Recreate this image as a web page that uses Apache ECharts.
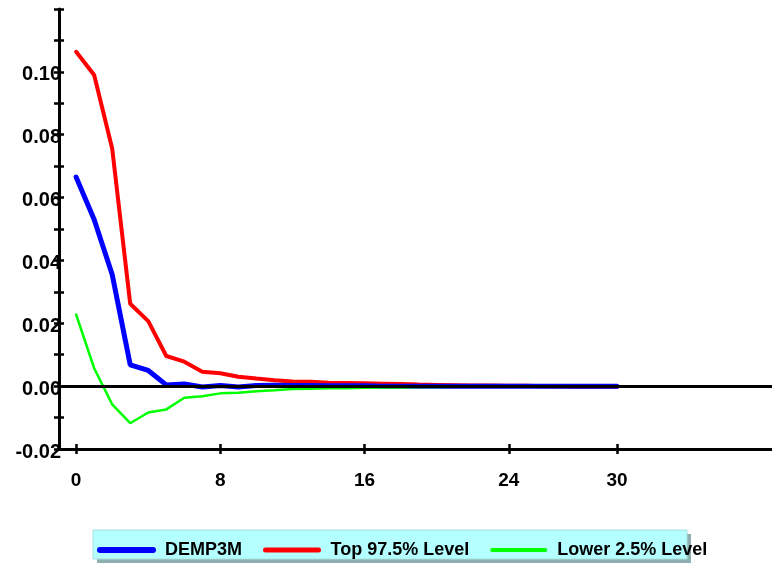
<!DOCTYPE html>
<html>
<head>
<meta charset="utf-8">
<script src="https://cdn.jsdelivr.net/npm/echarts@6/dist/echarts.min.js"></script>
<style>
html,body{margin:0;padding:0;background:#fff;}
#chart{width:772px;height:565px;}
</style>
</head>
<body>
<div id="chart"></div>
<script>
var periods = [0,1,2,3,4,5,6,7,8,9,10,11,12,13,14,15,16,17,18,19,20,21,22,23,24,25,26,27,28,29,30];
var demp3m = [0.0665,0.0530,0.0355,0.0068,0.0050,0.0004,0.0007,-0.0003,0.0002,-0.0003,0.0002,0.0003,0.0002,0.0002,0.0001,0.0001,0.0001,0.0000,0.0000,0.0000,0.0000,0.0000,0.0000,0.0000,0.0000,0.0000,0.0000,0.0000,0.0000,0.0000,0.0000];
var top975 = [0.1064,0.0990,0.0756,0.0262,0.0207,0.0096,0.0078,0.0046,0.0041,0.0030,0.0024,0.0019,0.0015,0.0014,0.0011,0.0010,0.0009,0.0008,0.0007,0.0005,0.0004,0.0003,0.0002,0.0002,0.0001,0.0001,0.0000,-0.0001,-0.0002,-0.0002,-0.0002];
var lower25 = [0.0228,0.0057,-0.0058,-0.0118,-0.0084,-0.0074,-0.0037,-0.0032,-0.0023,-0.0021,-0.0016,-0.0013,-0.0009,-0.0008,-0.0007,-0.0007,-0.0005,-0.0004,-0.0004,-0.0003,-0.0003,-0.0002,-0.0002,-0.0002,-0.0001,-0.0001,-0.0001,0.0000,0.0000,0.0000,0.0000];
var xTickValues = [0,8,16,24,30];
var seriesNames = ['DEMP3M','Top 97.5% Level','Lower 2.5% Level'];

function pairs(vals){ return periods.map(function(p,i){ return [p, vals[i]]; }); }

var chart = echarts.init(document.getElementById('chart'));
var fontFam = '"Liberation Sans", Arial, sans-serif';
var xMin = -0.95, xMax = 38.6;
var option = {
  animation: false,
  backgroundColor: '#ffffff',
  grid: { left: 59, right: 0, top: 9, bottom: 116, containLabel: false },
  graphic: [
    { type: 'rect', z: 0, shape: { x: 97, y: 534, width: 594, height: 29 }, style: { fill: '#8fb0b0' } },
    { type: 'rect', z: 0, shape: { x: 93, y: 530, width: 594, height: 29 }, style: { fill: '#b4ffff', stroke: '#a8dede', lineWidth: 1 } }
  ],
  legend: {
    left: 97, top: 541, padding: 0,
    itemWidth: 53, itemHeight: 14, itemGap: 21,
    itemStyle: { opacity: 0 },
    data: [
      { name: seriesNames[0], lineStyle: { width: 6, cap: 'round', color: '#0000ff' } },
      { name: seriesNames[1], lineStyle: { width: 5, cap: 'round', color: '#ff0000' } },
      { name: seriesNames[2], lineStyle: { width: 4, cap: 'round', color: '#00ff00' } }
    ],
    textStyle: { fontFamily: fontFam, fontWeight: 'bold', fontSize: 18, color: '#000', padding: [0,0,0,7] }
  },
  xAxis: [
    { type: 'value', min: xMin, max: xMax, position: 'bottom',
      axisLine: { show: true, onZero: false, lineStyle: { color: '#000', width: 3 } },
      axisTick: { show: true, inside: false, length: 5, lineStyle: { color: '#000', width: 2.5 }, customValues: xTickValues },
      axisLabel: { show: true, margin: 22, customValues: xTickValues, fontFamily: fontFam, fontWeight: 'bold', fontSize: 19, color: '#000' },
      splitLine: { show: false } },
    { type: 'value', min: xMin, max: xMax, position: 'bottom',
      axisLine: { show: false, onZero: false },
      axisTick: { show: true, inside: true, length: 5, lineStyle: { color: '#000', width: 2.5 }, customValues: xTickValues },
      axisLabel: { show: false },
      splitLine: { show: false } }
  ],
  yAxis: [
    { type: 'value', min: -0.02, max: 0.12, interval: 0.01, position: 'left',
      axisLine: { show: true, onZero: false, lineStyle: { color: '#000', width: 3 } },
      axisTick: { show: true, inside: false, length: 5, lineStyle: { color: '#000', width: 2.5 } },
      axisLabel: { show: true, margin: -2, verticalAlign: 'top', lineHeight: 6, fontFamily: fontFam, fontWeight: 'bold', fontSize: 20, color: '#000',
        formatter: function(v){ var k = Math.round(v*100); if (k % 2 !== 0 || k > 10) return ''; return (k/100).toFixed(2); } },
      splitLine: { show: false } },
    { type: 'value', min: -0.02, max: 0.12, interval: 0.01, position: 'left',
      axisLine: { show: false, onZero: false },
      axisTick: { show: true, inside: true, length: 5, lineStyle: { color: '#000', width: 2.5 } },
      axisLabel: { show: false },
      splitLine: { show: false } }
  ],
  series: [
    { name: seriesNames[0], type: 'line', data: pairs(demp3m), symbol: 'none', showSymbol: false, z: 3,
      lineStyle: { color: '#0000ff', width: 5, cap: 'round' }, itemStyle: { color: '#0000ff' } },
    { name: seriesNames[1], type: 'line', data: pairs(top975), symbol: 'none', showSymbol: false, z: 2,
      lineStyle: { color: '#ff0000', width: 4, cap: 'round' }, itemStyle: { color: '#ff0000' } },
    { name: seriesNames[2], type: 'line', data: pairs(lower25), symbol: 'none', showSymbol: false, z: 4,
      lineStyle: { color: '#00ff00', width: 2.5, cap: 'round' }, itemStyle: { color: '#00ff00' },
      markLine: { silent: true, symbol: 'none', label: { show: false }, z: 10,
        lineStyle: { color: '#000', width: 3, type: 'solid' }, data: [{ yAxis: 0 }] } }
  ]
};
chart.setOption(option);
</script>
</body>
</html>
